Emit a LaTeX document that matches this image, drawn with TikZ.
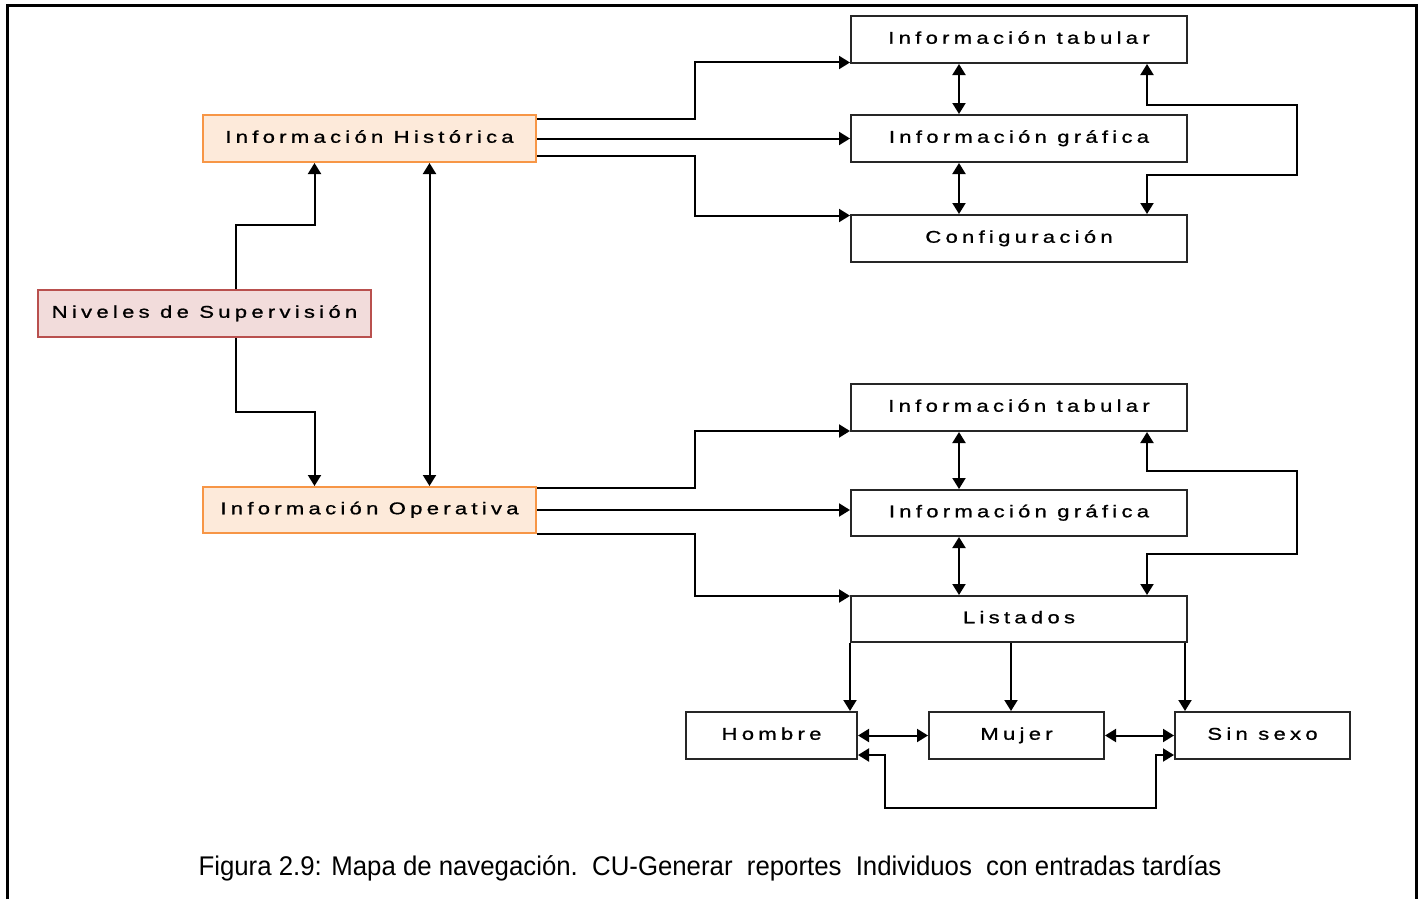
\documentclass[tikz,border=0pt]{standalone}
\usepackage{fontspec}
\setmainfont{Liberation Sans}
\newfontfamily\boxfont[LetterSpace=25, FakeStretch=1.3, FakeBold=1]{Liberation Sans}
\newfontfamily\capfont[FakeStretch=0.955]{Liberation Sans}
\usetikzlibrary{arrows.meta}
\definecolor{histfill}{HTML}{FDEADA}
\definecolor{histline}{HTML}{F79646}
\definecolor{nivfill}{HTML}{F2DCDB}
\definecolor{nivline}{HTML}{B9504E}
\begin{document}
\begin{tikzpicture}[x=1pt,y=-1pt,
  box/.style={draw=black!85, line width=2pt, inner sep=0pt,
    minimum width=336pt, minimum height=47pt,
    text height=12pt, text depth=3.5pt,
    font=\boxfont\fontsize{17}{20}\selectfont},
  levelbox/.style={box, minimum width=333pt, fill=histfill, draw=histline},
  rootbox/.style={box, minimum width=333pt, fill=nivfill, draw=nivline},
  smallbox/.style={box, minimum width=173pt},
  tip/.tip={Triangle[length=11pt,width=13pt]},
  link/.style={line width=2pt, -tip},
  both/.style={line width=2pt, tip-tip},
]
\useasboundingbox (0,0) rectangle (1423,899);

% outer frame
\draw[line width=3pt] (7,899) -- (7,6) -- (1416,6) -- (1416,899);

% left column
\node[levelbox] (hist) at (369.5,138.5) {Información  Histórica};
\node[rootbox]  (niv)  at (204.5,313.5) {Niveles de Supervisión};
\node[levelbox, minimum height=46pt] (op) at (369.5,510) {Información Operativa};

% upper right group
\node[box] (tab1)   at (1019,39.5)  {Información tabular};
\node[box] (graf1)  at (1019,138.5) {Información gráfica};
\node[box] (config) at (1019,238.5) {Configuración};

% lower right group
\node[box] (tab2)  at (1019,407.5) {Información tabular};
\node[box, minimum height=46pt] (graf2) at (1019,513) {Información gráfica};
\node[box, minimum height=46pt] (list)  at (1019,619) {Listados};

% bottom row
\node[smallbox, minimum width=171pt] (hombre)  at (771.5,735.5)  {Hombre};
\node[smallbox, minimum width=175pt] (mujer)   at (1016.5,735.5) {Mujer};
\node[smallbox, minimum width=175pt] (sinsexo) at (1262.5,735.5) {Sin sexo};

% supervision levels
\draw[link] ([xshift=31pt]niv.north) -- ++(0,-64) -| ([xshift=-55pt]hist.south);
\draw[link] ([xshift=31pt]niv.south) -- ++(0,74) -| ([xshift=-55pt]op.north);
\draw[both] ([xshift=60pt]hist.south) -- ([xshift=60pt]op.north);

% historical information
\draw[link] ([yshift=-5pt]hist.north east) -- ++(158,0) |- ([yshift=1.5pt]tab1.south west);
\draw[link] (hist.east) -- (graf1.west);
\draw[link] ([yshift=7pt]hist.south east) -- ++(158,0) |- ([yshift=-1.5pt]config.north west);
\draw[both] ([xshift=-60pt]tab1.south) -- ([xshift=-60pt]graf1.north);
\draw[both] ([xshift=-60pt]graf1.south) -- ([xshift=-60pt]config.north);
\draw[both] ([xshift=128pt]tab1.south) -- ++(0,41) -- ++(150,0) -- ++(0,70) -| ([xshift=128pt]config.north);

% operational information
\draw[link] ([yshift=-1.5pt]op.north east) -- ++(158,0) |- ([yshift=1pt]tab2.south west);
\draw[link] (op.east) -- (op.east -| graf2.west);
\draw[link] (op.south east) -- ++(158,0) |- ([yshift=-1pt]list.north west);
\draw[both] ([xshift=-60pt]tab2.south) -- ([xshift=-60pt]graf2.north);
\draw[both] ([xshift=-60pt]graf2.south) -- ([xshift=-60pt]list.north);
\draw[both] ([xshift=128pt]tab2.south) -- ++(0,39) -- ++(150,0) -- ++(0,83) -| ([xshift=128pt]list.north);

% listings
\draw[link] (list.south west) -- (list.south west |- hombre.north);
\draw[link] ([xshift=-8pt]list.south) -- ([xshift=-8pt]list.south |- mujer.north);
\draw[link] ([xshift=-3pt]list.south east) -- ([xshift=-3pt]list.south east |- sinsexo.north);
\draw[both] (hombre.east) -- (mujer.west);
\draw[both] (mujer.east) -- (sinsexo.west);
\draw[both] ([yshift=5pt]hombre.south east) -- ++(27,0) -- ++(0,53) -- ++(271,0) |- ([yshift=5pt]sinsexo.south west);

% caption
\node[font=\capfont\fontsize{27}{32}\selectfont] (cap) at (710,868)
  {Figura 2.9: Mapa de navegación.\ \ CU-Generar\ \ reportes\ \ Individuos\ \ con entradas tardías};
\end{tikzpicture}
\end{document}
